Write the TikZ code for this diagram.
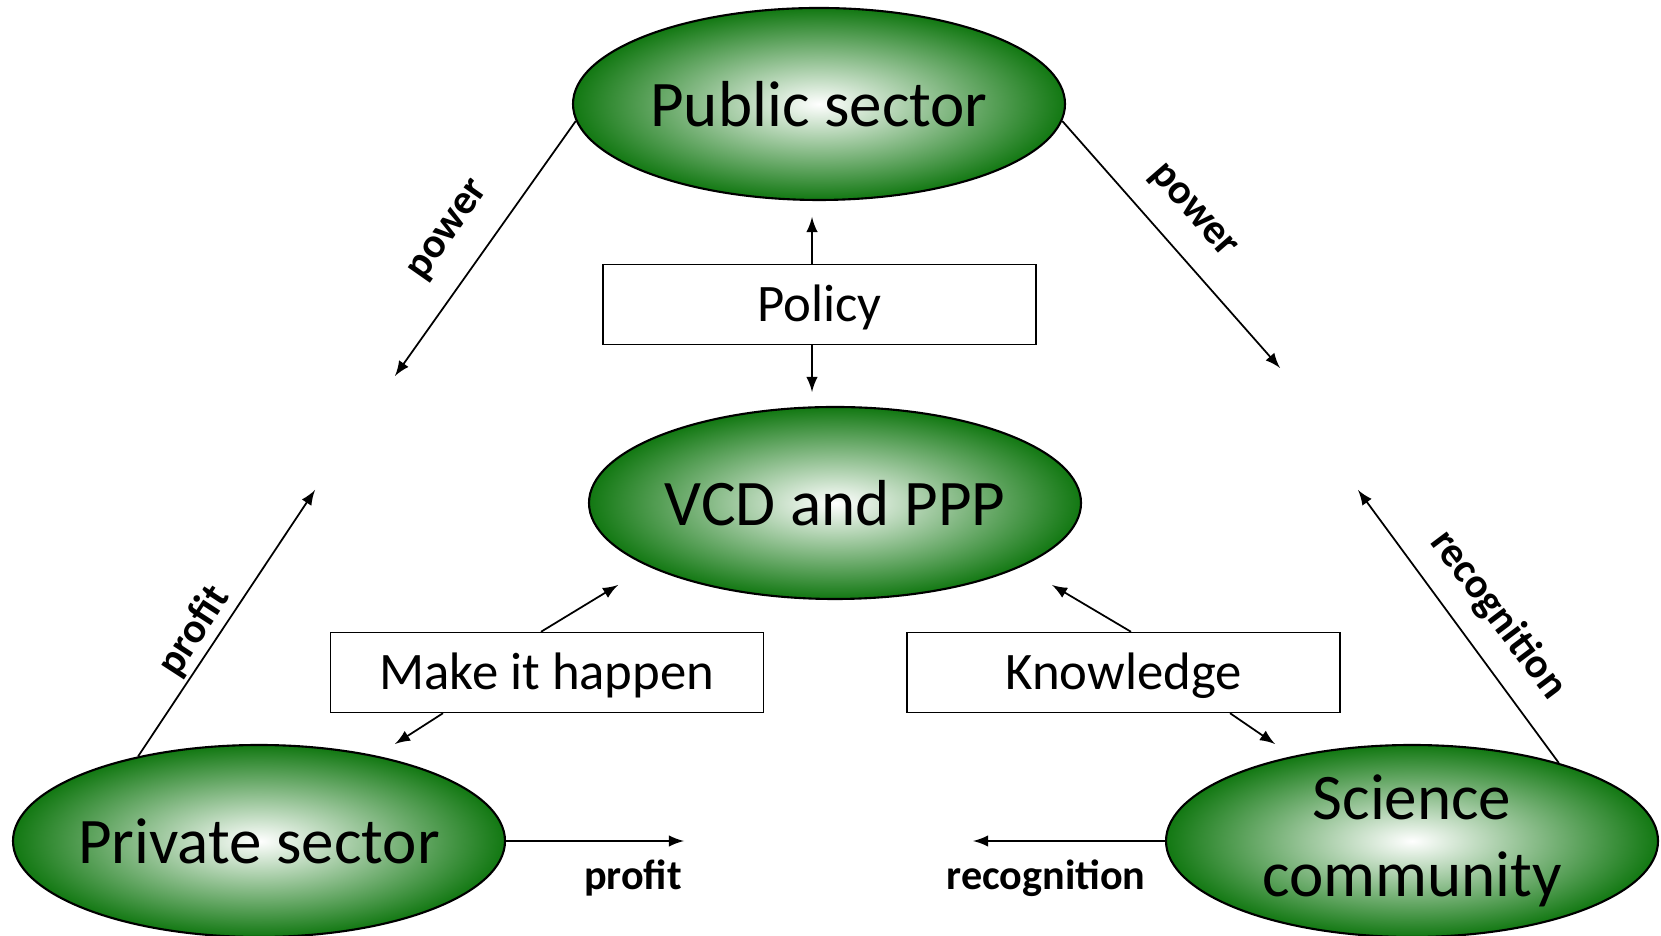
\documentclass[tikz,border=0pt]{standalone}
\usepackage{fontspec}
\setmainfont{Carlito}
\usetikzlibrary{arrows,shapes}

\definecolor{sectorgreen}{RGB}{18,120,18}

\begin{document}
\begin{tikzpicture}
\tikzstyle{actor} = [ellipse, draw=black, line width=0.6pt, inner color=white, outer color=sectorgreen, minimum width=4.92cm, minimum height=1.92cm, inner xsep=-0.3cm, inner ysep=-0.25cm, align=center, font=\fontsize{18.5}{22}\selectfont]
\tikzstyle{role} = [rectangle, draw=black, thin, fill=white, minimum width=4.33cm, minimum height=0.8cm, text height=0.44cm, text depth=0.1cm, font=\fontsize{15}{18}\selectfont]
\tikzstyle{gain} = [font=\fontsize{12}{14}\selectfont\bfseries, inner sep=0pt]
\tikzstyle{flow} = [->, >=latex, line width=0.5pt]
\useasboundingbox (0,0) rectangle (16.61,9.36);

\node[actor] (public) at (8.19, 8.32) {Public sector};
\node[actor] (vcd) at (8.35, 4.33) {VCD and PPP};
\node[actor] (private) at (2.59, 0.95) {Private sector};
\node[actor] (science) at (14.12, 0.95) {Science\\community};

\node[role] (policy) at (8.195, 6.315) {Policy};
\node[role] (happen) at (5.47, 2.635) {Make it happen};
\node[role] (knowledge) at (11.235, 2.635) {Knowledge};

% free ends of the arrows
\coordinate (policyup) at (8.12, 7.19);
\coordinate (policydown) at (8.12, 5.44);
\coordinate (happenup) at (6.18, 3.51);
\coordinate (happendown) at (3.95, 1.92);
\coordinate (knowup) at (10.52, 3.51);
\coordinate (knowdown) at (12.75, 1.92);
\coordinate (powerleft) at (3.95, 5.60);
\coordinate (powerright) at (12.80, 5.68);
\coordinate (profitup) at (3.15, 4.46);
\coordinate (recogup) at (13.58, 4.46);
\coordinate (profitright) at (6.84, 0.95);
\coordinate (recogleft) at (9.73, 0.95);

\draw [flow] ([xshift=-0.075cm]policy.north) -- (policyup);
\draw [flow] ([xshift=-0.075cm]policy.south) -- (policydown);
\draw [flow] ([xshift=-0.06cm]happen.north) -- (happenup);
\draw [flow] ([xshift=-1.04cm]happen.south) -- (happendown);
\draw [flow] ([xshift=0.075cm]knowledge.north) -- (knowup);
\draw [flow] ([xshift=1.065cm]knowledge.south) -- (knowdown);
\draw [flow] (public.184) -- (powerleft);
\draw [flow] (public.-4) -- (powerright);
\draw [flow] (private.145) -- (profitup);
\draw [flow] (science.28) -- (recogup);
\draw [flow] (private.east) -- (profitright);
\draw [flow] (science.west) -- (recogleft);

\node[gain, rotate=55] (powerl) at (4.50, 7.05) {power};
\node[gain, rotate=-49] (powerr) at (11.92, 7.24) {power};
\node[gain, rotate=57] (profitl) at (1.94, 3.05) {profit};
\node[gain, rotate=-53] (recogr) at (14.98, 3.21) {recognition};
\node[gain] (profitb) at (6.33, 0.58) {profit};
\node[gain] (recogb) at (10.46, 0.58) {recognition};
\end{tikzpicture}
\end{document}
